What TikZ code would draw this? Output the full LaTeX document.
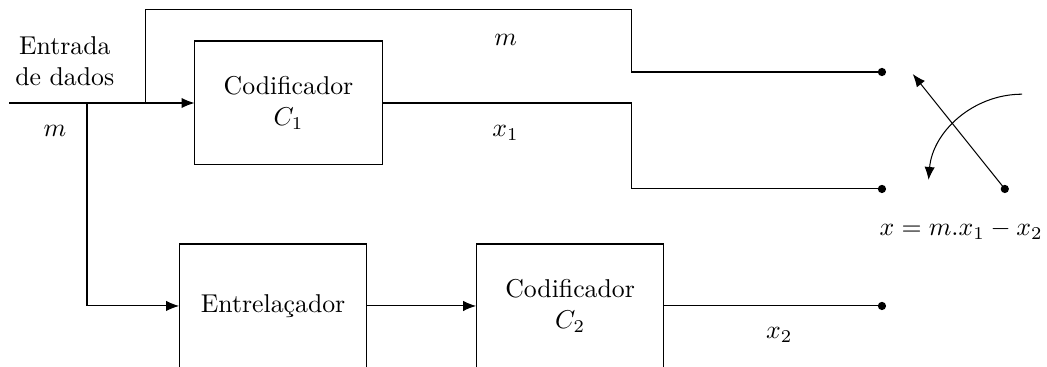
\documentclass[tikz,border=0pt]{standalone}
\usepackage{amsmath, amssymb}
\usepackage{tikz}
\usetikzlibrary{positioning, arrows.meta}

\begin{document}
\begin{tikzpicture}[node distance=8mm, >={Latex[length=5pt, width=4pt]},
    bloco/.style={draw, align=center, minimum width=2.55cm, minimum height=1.69cm},
    ponto/.style={circle, fill, inner sep=0pt, minimum size=3.2pt}]
    \useasboundingbox (-0.123,1.404) rectangle (14.15,-3.598);
    % blocos
    \node[bloco] (cod1) at (3.81,0) {Codificador\\$C_1$};
    \node[bloco] (entr) at (3.6,-2.767) {Entrelaçador};
    \node[bloco, right=1.485cm of entr] (cod2) {Codificador\\$C_2$};
    % pontos de ligacao
    \coordinate (in) at (0,0);
    \coordinate (j1) at (1.063,0);
    \coordinate (j2) at (1.867,0);
    \coordinate (topo) at (8.49,1.268);
    \node[ponto] (p1) at (11.9,0.4225) {};
    \node[ponto] (p2) at (11.9,-1.172) {};
    \node[ponto] (p3) at (11.9,-2.767) {};
    \node[ponto] (chave) at (13.575,-1.172) {};
    \coordinate (ponta) at (12.32,0.395);
    \coordinate (arcini) at (13.81,0.12);
    % textos
    \node[align=center] (entrada) at (0.76,0.57) {Entrada\\de dados};
    \node (m1) at (0.627,-0.38) {$m$};
    \node (m2) at (6.77,0.86) {$m$};
    \node (x1) at (6.77,-0.41) {$x_1$};
    \node (x2) at (10.5,-3.16) {$x_2$};
    \node (saida) at (12.98,-1.73) {$x=m.x_1-x_2$};
    % ligacoes
    \draw[->] (in) -- (cod1.west);
    \draw[->] (j1) |- (entr.west);
    \draw (j2) |- (topo) |- (p1.center);
    \draw (cod1.east) -- (cod1.east -| topo) |- (p2.center);
    \draw[->] (entr) -- (cod2);
    \draw (cod2.east) -- (p3.center);
    % chave
    \draw[->] (chave.center) -- (ponta);
    \draw[->] (arcini) arc[start angle=90, end angle=175, radius=1.28cm];
  \end{tikzpicture}
\end{document}
